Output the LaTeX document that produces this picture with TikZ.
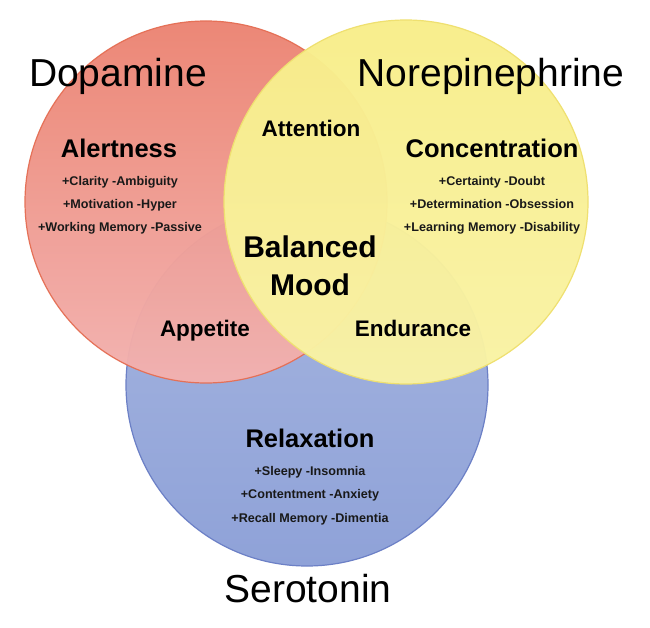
\documentclass[tikz,border=0pt]{standalone}
\usepackage{fontspec}
\setmainfont{Liberation Sans}
\definecolor{redtop}{HTML}{EC8472}
\definecolor{redbot}{HTML}{F3B2B0}
\definecolor{rededge}{HTML}{E56F55}
\definecolor{yeltop}{HTML}{F8EE8A}
\definecolor{yelbot}{HTML}{F9F3A6}
\definecolor{yeledge}{HTML}{EFE070}
\definecolor{bluetop}{HTML}{A7B6E0}
\definecolor{bluebot}{HTML}{8FA2D8}
\definecolor{blueedge}{HTML}{6C80C6}
\begin{document}
\begin{tikzpicture}[x=1pt,y=-1pt,
  big/.style={inner sep=0pt,anchor=base,font=\fontsize{39}{39}\selectfont},
  head/.style={inner sep=0pt,anchor=base,font=\fontsize{25.5}{26}\selectfont\bfseries},
  mid/.style={inner sep=0pt,anchor=base,font=\fontsize{22.5}{23}\selectfont\bfseries},
  bal/.style={inner sep=0pt,anchor=base,font=\fontsize{30}{30}\selectfont\bfseries},
  small/.style={inner sep=0pt,anchor=base,font=\fontsize{12.6}{13}\selectfont\bfseries,text=black!90}]
\useasboundingbox (0,0) rectangle (650,628);
\fill[white] (0,0) rectangle (650,628);
% circles
\shade[top color=bluetop,bottom color=bluebot] (307,385) circle (181);
\draw[blueedge,line width=1.2pt] (307,385) circle (181);
\shade[top color=redtop,bottom color=redbot,opacity=0.97] (206,202) circle (181);
\draw[rededge,line width=1.2pt,opacity=0.97] (206,202) circle (181);
\shade[top color=yeltop,bottom color=yelbot,opacity=0.97] (406,202) circle (182);
\draw[yeledge,line width=1.2pt] (406,202) circle (182);
% titles
\node[big] (dop) at (118,87) {Dopamine};
\node[big] (nor) at (491,87) {Norepinephrine};
\node[big] (ser) at (308,602) {Serotonin};
% Dopamine block
\node[head] (ale) at (119,158) {Alertness};
\node[small] (a1) at (120,186) {+Clarity -Ambiguity};
\node[small] (a2) at (120,209) {+Motivation -Hyper};
\node[small] (a3) at (120,232) {+Working Memory -Passive};
% Norepinephrine block
\node[head] (con) at (492,158) {Concentration};
\node[small] (c1) at (492,186) {+Certainty -Doubt};
\node[small] (c2) at (492,209) {+Determination -Obsession};
\node[small] (c3) at (492,232) {+Learning Memory -Disability};
% Serotonin block
\node[head] (rel) at (310,447) {Relaxation};
\node[small] (r1) at (310,475) {+Sleepy -Insomnia};
\node[small] (r2) at (310,498) {+Contentment -Anxiety};
\node[small] (r3) at (310,522) {+Recall Memory -Dimentia};
% overlaps
\node[mid] (att) at (311,137) {Attention};
\node[mid] (app) at (205,336) {Appetite};
\node[mid] (end) at (413,336) {Endurance};
\node[bal] (bala) at (310,258) {Balanced};
\node[bal] (mood) at (310,295) {Mood};
\end{tikzpicture}
\end{document}
